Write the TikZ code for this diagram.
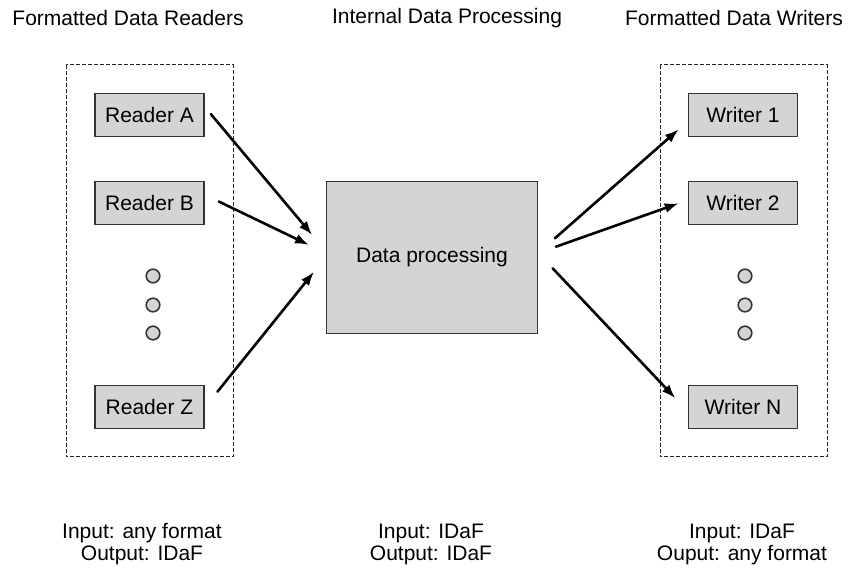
\documentclass[tikz,border=0pt]{standalone}
\usepackage{fontspec}
\setmainfont{Liberation Sans}
\usetikzlibrary{arrows.meta}

\begin{document}
\begin{tikzpicture}
[x = 0.5pt, y = -0.5pt, line cap = round,
every node/.style = {font = \fontsize{10.5}{11}\selectfont},
block/.style = {draw = boxline, fill = boxfill, line width = 0.75pt, minimum width = 54.5pt, minimum height = 21.5pt, inner sep = 0pt},
main block/.style = {block, minimum width = 105.5pt, minimum height = 76pt},
group/.style = {draw = black!85, line width = 0.5pt, line cap = butt, dash pattern = on 2pt off 1pt},
dot/.style = {circle, draw = boxline, fill = boxfill, line width = 0.8pt, minimum size = 6.8pt, inner sep = 0pt},
flow/.style = {line width = 1.3pt, -{Latex[length = 7pt, width = 5pt]}},
caption/.style = {align = center}]

\colorlet{boxfill}{black!17}
\colorlet{boxline}{black!80}

\useasboundingbox (0, 0) rectangle (848, 572);

\node (readers title) at (128, 18) {Formatted Data Readers};
\node (processing title) at (447, 18) {Internal Data Processing};
\node (writers title) at (734, 18) {Formatted Data Writers};

\draw[group] (66, 65) rectangle (233, 457);
\draw[group] (660, 65) rectangle (827, 457);

\foreach \name/\y/\label in {ra/115/Reader A, rb/203/Reader B, rz/407/Reader Z} \node[block] (\name) at (149.5, \y) {\label};
\foreach \name/\y/\label in {w1/115/Writer 1, w2/203/Writer 2, wn/407/Writer N} \node[block] (\name) at (743, \y) {\label};
\foreach \y [count = \i] in {276, 305, 333} {
\node[dot] (rdot\i) at (153, \y) {};
\node[dot] (wdot\i) at (745, \y) {};
}

\node[main block] (dp) at (432, 257.5) {Data processing};

\draw[flow] ([shift = {(6, -1)}] ra.east) -- ([shift = {(-13.5, -22.5)}] dp.west);
\draw[flow] ([shift = {(14, -1.5)}] rb.east) -- ([shift = {(-16.7, -12.5)}] dp.west);
\draw[flow] ([shift = {(12.7, -15.3)}] rz.east) -- ([shift = {(-11.7, 14.2)}] dp.west);

\draw[flow] ([shift = {(16.7, -19.2)}] dp.east) -- ([shift = {(-9, 14.3)}] w1.west);
\draw[flow] ([shift = {(17.7, -10.8)}] dp.east) -- ([shift = {(-9, 0.3)}] w2.west);
\draw[flow] ([shift = {(14.4, 10.8)}] dp.east) -- ([shift = {(-12.3, -8.7)}] wn.west);

\node[caption] (readers note) at (142, 544) {Input: any format\\Output: IDaF};
\node[caption] (processing note) at (431, 544) {Input: IDaF\\Output: IDaF};
\node[caption] (writers note) at (742, 544) {Input: IDaF\\Ouput: any format};
\end{tikzpicture}
\end{document}
